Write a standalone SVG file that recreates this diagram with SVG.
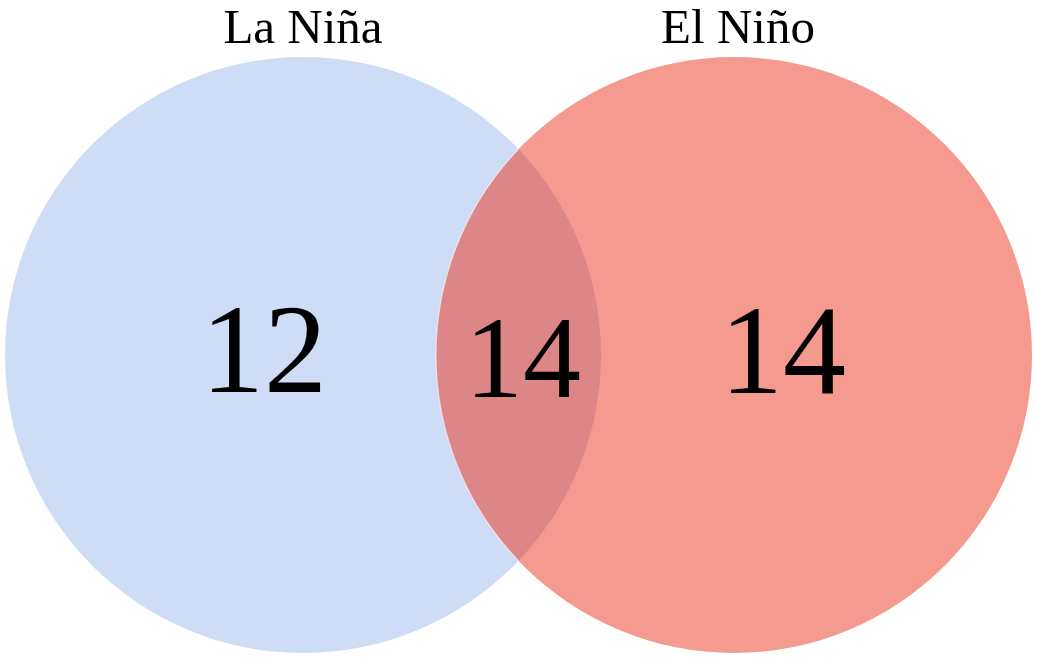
<svg xmlns="http://www.w3.org/2000/svg" width="1037" height="657" viewBox="0 0 1037 657">
  <style>
    .title { font-family: "Liberation Serif", "Times New Roman", serif; font-size: 49px; fill: #000; text-anchor: middle; }
    .count { font-family: "Liberation Serif", "Times New Roman", serif; fill: #000; text-anchor: middle; }
  </style>
  <defs>
    <clipPath id="clipLeft">
      <circle cx="303" cy="355" r="298"/>
    </clipPath>
  </defs>
  <rect width="1037" height="657" fill="#ffffff"/>

  <g id="set-la-nina">
    <circle cx="303" cy="355" r="298" fill="#cfdcf6"/>
    <text class="title" x="303" y="43">La Niña</text>
    <text class="count" x="264" y="392" font-size="126">12</text>
  </g>

  <g id="set-el-nino">
    <circle cx="734" cy="355" r="298" fill="#f49a8f"/>
    <text class="title" x="738" y="43">El Niño</text>
    <text class="count" x="783" y="393" font-size="126">14</text>
  </g>

  <g id="intersection">
    <circle cx="734" cy="355" r="298" fill="#dd8688" clip-path="url(#clipLeft)"/>
    <circle cx="734" cy="355" r="298" fill="none" stroke="#ffffff" stroke-opacity="0.6" stroke-width="1.2" clip-path="url(#clipLeft)"/>
    <text class="count" x="523" y="397" font-size="116">14</text>
  </g>
</svg>
